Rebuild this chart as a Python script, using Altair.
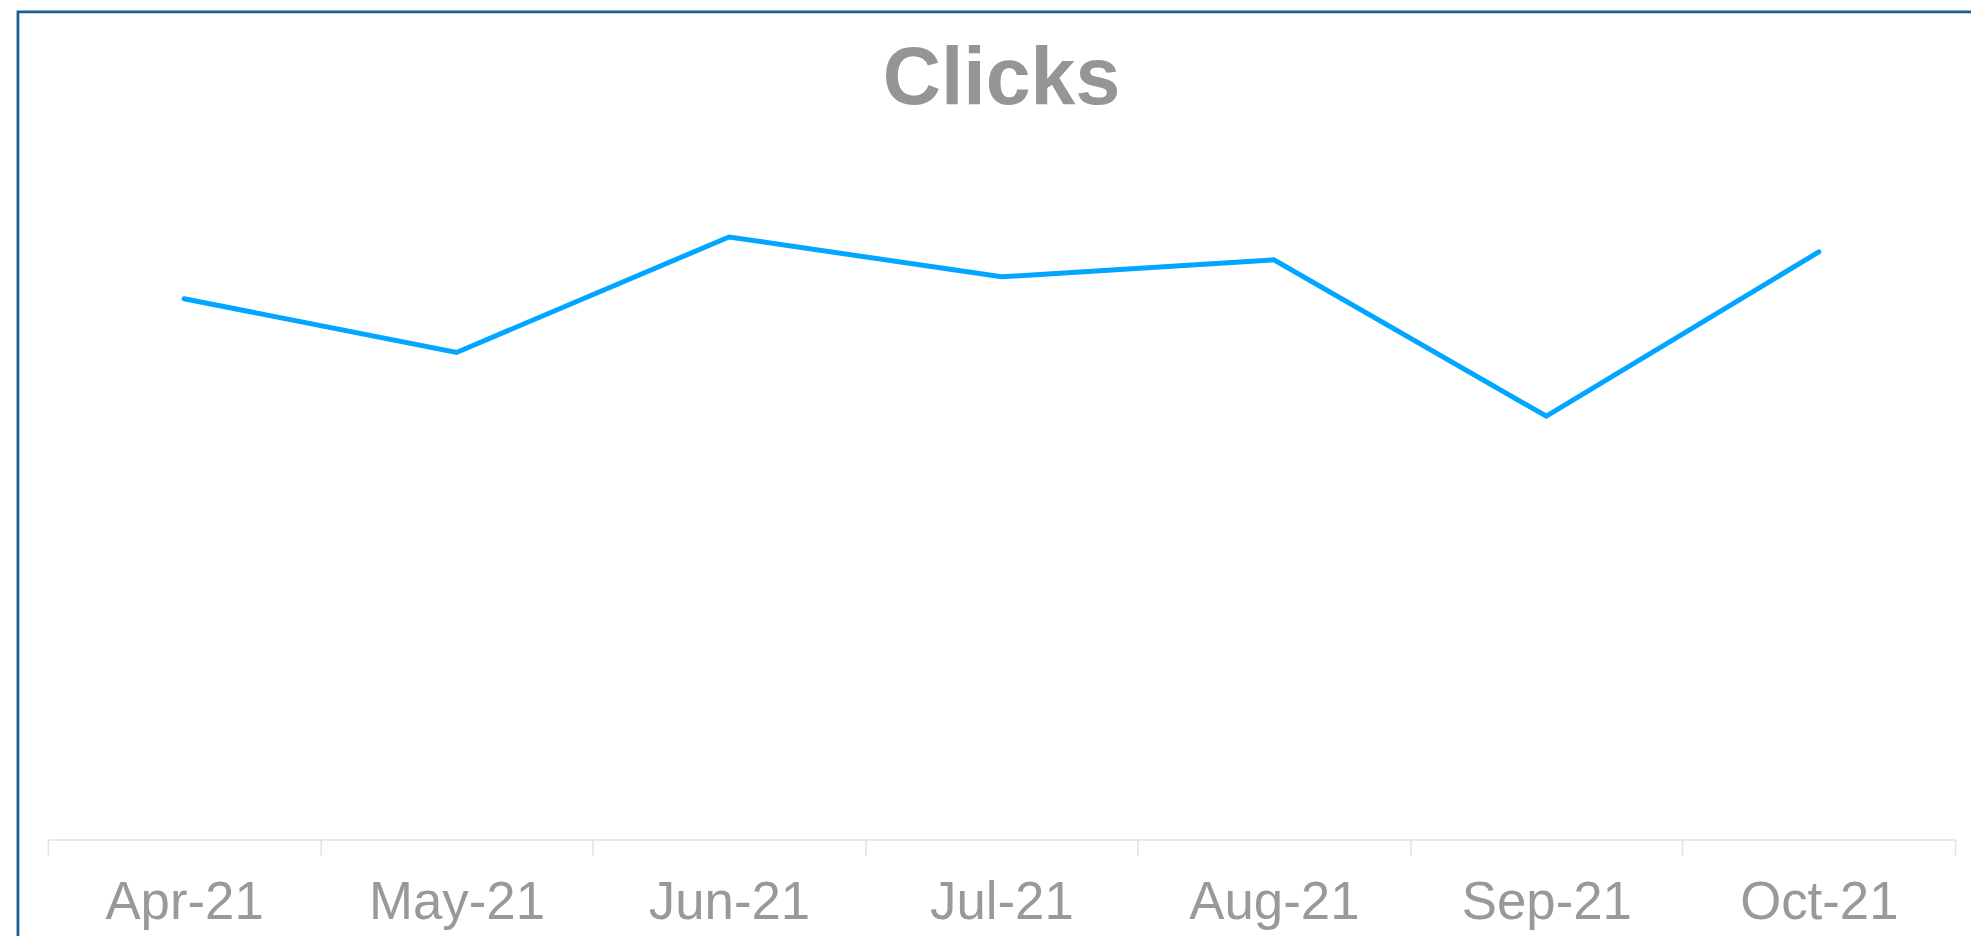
import altair as alt
import pandas as pd

months = ["Apr-21", "May-21", "Jun-21", "Jul-21", "Aug-21", "Sep-21", "Oct-21"]
clicks = [1086, 978, 1210, 1130, 1164, 850, 1180]

W = 1915
H = 700

df = pd.DataFrame({"month": months, "clicks": clicks})

line = alt.Chart(df).mark_line(
    color="#00a6ff", strokeWidth=5, strokeCap="round"
).encode(
    x=alt.X(
        "month:N",
        sort=months,
        scale=alt.Scale(paddingInner=0, paddingOuter=0),
        axis=alt.Axis(
            title=None,
            labelAngle=0,
            labelFont="Liberation Sans",
            labelFontSize=53,
            labelColor="#999999",
            labelPadding=21,
            tickSize=16,
            tickColor="#e3e3e3",
            tickWidth=1.5,
            domainColor="#e3e3e3",
            domainWidth=1.5,
            tickBand="extent",
            grid=False,
        ),
    ),
    y=alt.Y("clicks:Q", scale=alt.Scale(domain=[0, 1400]), axis=None),
)

frame = alt.Chart(pd.DataFrame({"a": [0]})).mark_rect(
    fillOpacity=0, stroke="#1b5d92", strokeWidth=2.8
).encode(
    x=alt.value(-30),
    x2=alt.value(W + 100),
    y=alt.value(-131),
    y2=alt.value(H + 200),
)

chart = alt.layer(frame, line).properties(
    width=W,
    height=H,
    autosize=alt.AutoSizeParams(type="none"),
    padding={"left": 40, "top": 133, "right": 16, "bottom": 95},
    title=alt.TitleParams(
        "Clicks",
        font="Liberation Sans",
        fontSize=81,
        fontWeight="bold",
        color="#959595",
        anchor="middle",
        baseline="alphabetic",
        offset=-175,
    ),
).configure_view(strokeWidth=0)

chart.save("out.html", embed_options={"renderer": "svg", "actions": False})
